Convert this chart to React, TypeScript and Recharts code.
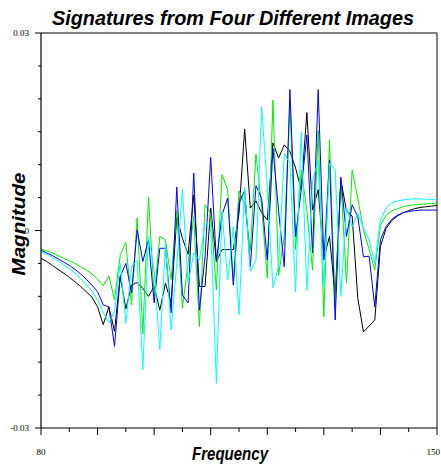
import React from 'react';
import { LineChart, Line, XAxis, YAxis, ReferenceLine } from 'recharts';

// Frequency samples (x)
const frequency = [
  80, 81, 82, 83, 84, 85, 86, 87, 88, 89,
  90, 91, 92, 93, 94, 95, 96, 97, 98, 99,
  100, 101, 102, 103, 104, 105, 106, 107, 108, 109,
  110, 111, 112, 113, 114, 115, 116, 117, 118, 119,
  120, 121, 122, 123, 124, 125, 126, 127, 128, 129,
  130, 131, 132, 133, 134, 135, 136, 137, 138, 139,
  140, 141, 142, 143, 144, 145, 146, 147, 148, 149, 150,
];

// Magnitudes, in thousandths (x 1e-3)
const blackSignature = [
  -4.2, -4.7, -5.3, -5.9, -6.5, -7.1, -7.8, -8.5, -9.3, -10.1,
  -11.6, -14.3, -11.6, -15.3, -7.0, -11.9, -8.3, -7.9, -8.8, -10.0,
  -8.5, -12.1, -8.0, -11.0, 2.1, -1.2, -3.6, 5.4, -8.5, -8.5,
  3.4, -4.7, -2.9, -2.9, -2.9, 2.6, 15.4, 3.4, 4.5, 2.7,
  1.6, 13.3, 11.0, 13.0, 12.0, 9.5, 6.2, 17.9, 3.1, 6.2,
  -4.2, -0.9, -10.0, 7.7, 3.0, 2.2, -10.3, -15.4, -14.5, -13.6,
  -2.4, 0.3, 1.5, 2.2, 2.7, 3.0, 3.3, 3.5, 3.6, 3.7, 3.8,
];
const blueSignature = [
  -3.0, -3.4, -3.8, -4.3, -4.8, -5.3, -5.9, -6.6, -7.4, -8.3,
  -9.3, -11.3, -11.6, -17.6, -7.0, -5.0, -9.5, 0.1, -4.7, -1.4,
  -11.0, -2.7, -2.7, -12.5, 6.6, -9.8, -11.0, 8.7, -12.1, -4.0,
  11.1, -4.7, 2.4, 4.9, -8.3, 4.1, 6.1, -5.5, 6.8, 4.9,
  -4.5, 12.5, 3.0, -5.5, 21.4, -0.9, 6.2, 14.5, -3.4, 21.4,
  -4.5, 10.7, -13.6, 8.1, -0.9, 3.9, 2.1, -4.0, -3.9, -11.6,
  -1.4, 0.6, 1.7, 2.3, 2.7, 2.9, 3.0, 3.1, 3.1, 3.1, 3.1,
];
const greenSignature = [
  -2.8, -3.1, -3.4, -3.8, -4.2, -4.6, -5.0, -5.5, -6.0, -6.6,
  -7.4, -8.4, -6.9, -10.5, -3.8, -1.8, -11.3, 1.9, -15.7, 5.1,
  -10.0, -0.9, -1.4, -7.5, 3.0, -11.8, -5.0, 2.1, -14.6, 3.9,
  2.6, -9.0, 8.5, 6.2, -8.0, 6.0, 4.0, -3.0, 11.6, 3.6,
  -7.2, 19.8, -6.8, -0.9, 18.9, -2.9, 9.2, 3.0, -6.0, 15.2,
  -13.1, 13.8, -11.6, 7.7, -8.0, 9.2, 4.9, 0.1, -2.9, -6.0,
  0.8, 2.3, 3.0, 3.3, 3.6, 3.8, 3.9, 4.0, 4.0, 4.1, 4.1,
];
const cyanSignature = [
  -3.2, -3.6, -4.1, -4.6, -5.2, -5.8, -6.5, -7.3, -8.2, -9.2,
  -10.5, -12.5, -14.0, -12.3, -5.0, -14.1, -5.5, -4.5, -21.1, -0.9,
  -6.0, -18.1, -2.0, -15.1, -5.0, 6.2, -8.0, -3.4, -4.5, 1.0,
  1.0, -23.2, 2.9, -7.5, 0.6, -12.8, 6.5, -6.2, -4.5, 18.8,
  6.6, -8.7, -5.5, 11.7, 10.2, -9.3, 14.9, -9.1, 7.6, 10.7,
  -8.5, 10.2, 9.2, -10.0, 3.5, 0.6, 2.6, 0.3, -1.4, -5.0,
  1.6, 3.4, 4.2, 4.5, 4.65, 4.75, 4.8, 4.8, 4.75, 4.7, 4.65,
];

const UNIT = 0.001;

const yTicks = [-0.03, -0.025, -0.02, -0.015, -0.01, -0.005, 0, 0.005, 0.01, 0.015, 0.02, 0.025, 0.03];
const yTickLabels = [
  { value: -0.03, label: '-0.03' },
  { value: 0, label: '0' },
  { value: 0.03, label: '0.03' },
];
const xTicks = [80, 85, 90, 95, 100, 105, 110, 115, 120, 125, 130, 135, 140, 145, 150];
const xMajorTicks = [80, 90, 100, 110, 120, 130, 140, 150];
const xTickLabels = [
  { value: 80, label: '80', anchor: 'middle' },
  { value: 150, label: '150', anchor: 'end' },
];

const title = 'Signatures from Four Different Images';
const xTitle = 'Frequency';
const yTitle = 'Magnitude';

const series = [
  { key: 'black', values: blackSignature, color: '#000000' },
  { key: 'green', values: greenSignature, color: '#00ee00' },
  { key: 'blue', values: blueSignature, color: '#0000ff' },
  { key: 'cyan', values: cyanSignature, color: '#00ffff' },
];

const data = frequency.map((f, i) => {
  const row: Record<string, number> = { f };
  series.forEach((s) => {
    row[s.key] = s.values[i] * UNIT;
  });
  return row;
});

const serif = "'Liberation Serif', 'Times New Roman', serif";
const sans = "'Liberation Sans', Arial, sans-serif";

const YTick = (props: any) => {
  const { x, y, payload } = props;
  const lab = yTickLabels.find((l) => l.value === payload.value);
  return (
    <g>
      <line x1={x - (lab ? 6 : 3)} x2={x} y1={y} y2={y} stroke="#000" strokeWidth={1} />
      {lab && (
        <text x={x - 12} y={y + 3} textAnchor="end" fontSize={9} fontFamily={serif} fill="#000">
          {lab.label}
        </text>
      )}
    </g>
  );
};

const XTick = (props: any) => {
  const { x, y, payload } = props;
  const lab = xTickLabels.find((l) => l.value === payload.value);
  const major = xMajorTicks.includes(payload.value);
  return (
    <g>
      <line x1={x} x2={x} y1={y} y2={y + (major ? 7 : 4)} stroke="#000" strokeWidth={1} />
      {lab && (
        <text
          x={lab.anchor === 'end' ? x + 3 : x}
          y={y + 27}
          textAnchor={lab.anchor}
          fontSize={9}
          fontFamily={serif}
          fill="#000"
        >
          {lab.label}
        </text>
      )}
    </g>
  );
};

export default function App() {
  return (
    <div style={{ position: 'absolute', left: 0, top: 0, width: 441, height: 469, background: '#fff' }}>
      <LineChart
        width={441}
        height={469}
        data={data}
        margin={{ top: 33, right: 4, bottom: 0, left: 0 }}
      >
        <XAxis
          dataKey="f"
          type="number"
          domain={[80, 150]}
          ticks={xTicks}
          interval={0}
          height={41}
          tickSize={0}
          tickMargin={0}
          tick={<XTick />}
          axisLine={{ stroke: '#000', strokeWidth: 1.2 }}
          tickLine={false}
          allowDataOverflow
        />
        <YAxis
          type="number"
          domain={[-0.03, 0.03]}
          ticks={yTicks}
          interval={0}
          width={41}
          tickSize={0}
          tickMargin={0}
          tick={<YTick />}
          axisLine={{ stroke: '#000', strokeWidth: 1.2 }}
          tickLine={false}
          allowDataOverflow
        />
        <ReferenceLine y={0.03} stroke="#000" strokeWidth={1.2} ifOverflow="extendDomain" />
        <ReferenceLine x={150} stroke="#333" strokeWidth={1.2} ifOverflow="extendDomain" />
        {series.map((s) => (
          <Line
            key={s.key}
            dataKey={s.key}
            type="linear"
            stroke={s.color}
            strokeWidth={1}
            dot={false}
            activeDot={false}
            isAnimationActive={false}
          />
        ))}
      </LineChart>
      <svg
        width={441}
        height={469}
        style={{ position: 'absolute', left: 0, top: 0, pointerEvents: 'none' }}
      >
        <text
          x={233}
          y={25}
          textAnchor="middle"
          fontSize={20}
          fontWeight="bold"
          fontStyle="italic"
          fontFamily={sans}
          textLength={362}
          lengthAdjust="spacingAndGlyphs"
          fill="#000"
        >
          {title}
        </text>
        <text
          x={230}
          y={460}
          textAnchor="middle"
          fontSize={19}
          fontWeight="bold"
          fontStyle="italic"
          fontFamily={sans}
          textLength={76}
          lengthAdjust="spacingAndGlyphs"
          fill="#000"
        >
          {xTitle}
        </text>
        <text
          x={0}
          y={0}
          transform="translate(25,224) rotate(-90)"
          textAnchor="middle"
          fontSize={19}
          fontWeight="bold"
          fontStyle="italic"
          fontFamily={sans}
          textLength={103}
          lengthAdjust="spacingAndGlyphs"
          fill="#000"
        >
          {yTitle}
        </text>
      </svg>
    </div>
  );
}
